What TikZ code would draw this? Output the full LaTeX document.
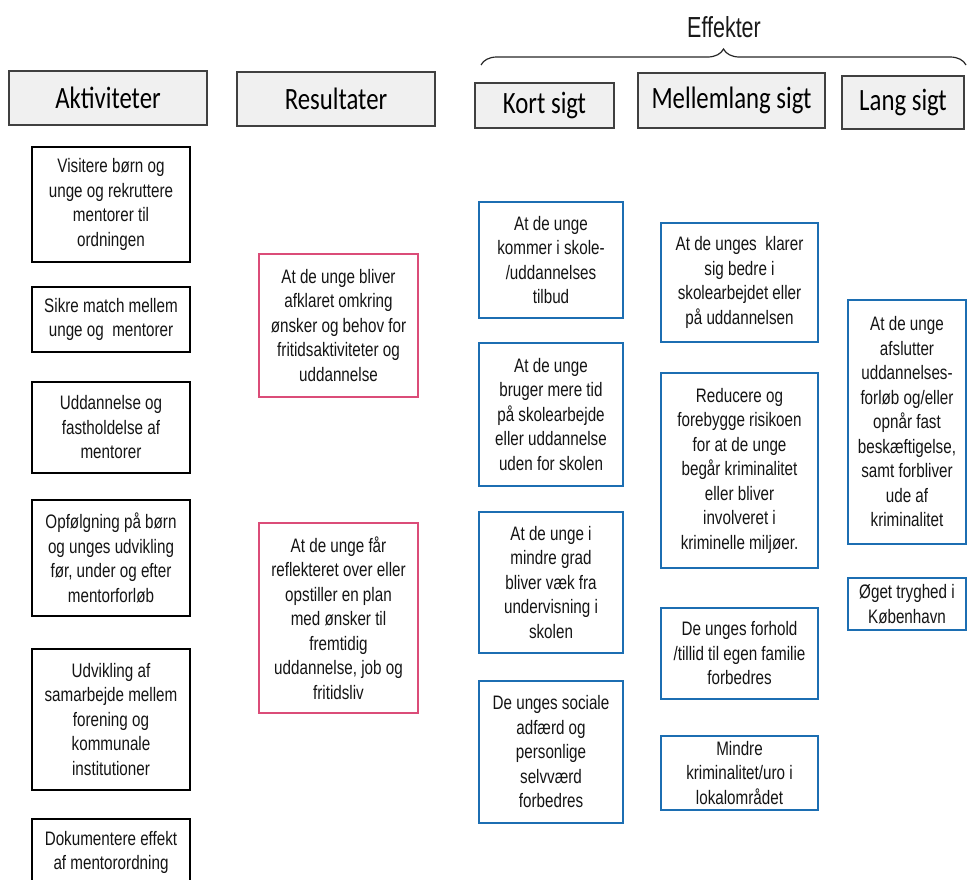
\documentclass[tikz,border=0pt]{standalone}
\usepackage{fontspec}
\usepackage{tikz}
\usetikzlibrary{decorations.pathreplacing}
\newfontfamily\kassefont[FakeStretch=0.78]{Liberation Sans}
\newfontfamily\effektfont[FakeStretch=0.74]{Liberation Sans}
\newfontfamily\titelfont[FakeStretch=0.8]{Carlito}

\begin{document}
\begin{tikzpicture}[x=1pt, y=-1pt,
        titel/.style={draw=black!75, fill=black!6, line width=1.2pt, inner sep=0pt,
            font=\titelfont\fontsize{31}{34}\selectfont},
        kasse/.style={draw=black, line width=1.2pt, inner sep=0pt, align=center,
            text=black!92, font=\kassefont\fontsize{19.5}{24.5}\selectfont},
        resultat/.style={kasse, draw=regnbue, line width=1.4pt},
        effekt/.style={kasse, draw=blaa, line width=2.4pt}]
        \definecolor{blaa}{rgb}{0.11, 0.43, 0.70}
        \definecolor{regnbue}{rgb}{0.86, 0.30, 0.47}

        \useasboundingbox (0,0) rectangle (968,879);
        \clip (0,0) rectangle (968,879);

        \node [titel, minimum width=198, minimum height=54] (tAkt)   at (108,98)    {Aktiviteter};
        \node [titel, minimum width=198, minimum height=54] (tRes)   at (336,99)    {Resultater};
        \node [titel, minimum width=139, minimum height=45] (tKort)  at (544.5,105.5) {Kort sigt};
        \node [titel, minimum width=187, minimum height=55] (tMel)   at (731.5,100.5) {Mellemlang sigt};
        \node [titel, minimum width=122, minimum height=53] (tLang)  at (903,102.5) {Lang sigt};

        \node [font=\effektfont\fontsize{29}{30}\selectfont, text=black!90, inner sep=0pt] (effekter) at (724,27) {Effekter};
        \coordinate (klV) at (481,65);
        \coordinate (klH) at (966,65);
        \draw [black!85, line width=1.2pt, decorate, decoration={brace, amplitude=16pt}] (klV) -- (klH);

        \node [kasse, minimum width=158, minimum height=115] (a1) at (111,204.5)
            {Visitere børn og\\unge og rekruttere\\mentorer til\\ordningen};
        \node [kasse, minimum width=158, minimum height=65] (a2) at (111,319.5)
            {Sikre match mellem\\unge og\ \ mentorer};
        \node [kasse, minimum width=158, minimum height=91] (a3) at (111,427.5)
            {Uddannelse og\\fastholdelse af\\mentorer};
        \node [kasse, minimum width=158, minimum height=116] (a4) at (111,558)
            {Opfølgning på børn\\og unges udvikling\\før, under og efter\\mentorforløb};
        \node [kasse, minimum width=158, minimum height=141] (a5) at (111,719.5)
            {Udvikling af\\samarbejde mellem\\forening og\\kommunale\\institutioner};
        \node [kasse, minimum width=158, minimum height=67] (a6) at (111,852.5)
            {Dokumentere effekt\\af mentorordning};

        \node [resultat, minimum width=159, minimum height=143] (r1) at (338.5,325.5)
            {At de unge bliver\\afklaret omkring\\ønsker og behov for\\fritidsaktiviteter og\\uddannelse};
        \node [resultat, minimum width=159, minimum height=190] (r2) at (338.5,618)
            {At de unge får\\reflekteret over eller\\opstiller en plan\\med ønsker til\\fremtidig\\uddannelse, job og\\fritidsliv};

        \node [effekt, minimum width=144, minimum height=116] (k1) at (551,260)
            {At de unge\\kommer i skole-\\/uddannelses\\tilbud};
        \node [effekt, minimum width=144, minimum height=143] (k2) at (551,414.5)
            {At de unge\\bruger mere tid\\på skolearbejde\\eller uddannelse\\uden for skolen};
        \node [effekt, minimum width=144, minimum height=141] (k3) at (551,582.5)
            {At de unge i\\mindre grad\\bliver væk fra\\undervisning i\\skolen};
        \node [effekt, minimum width=144, minimum height=142] (k4) at (551,752)
            {De unges sociale\\adfærd og\\personlige\\selvværd\\forbedres};

        \node [effekt, minimum width=157, minimum height=119] (m1) at (739.5,282.5)
            {At de unges\ \ klarer\\sig bedre i\\skolearbejdet eller\\på uddannelsen};
        \node [effekt, minimum width=157, minimum height=195] (m2) at (739.5,470.5)
            {Reducere og\\forebygge risikoen\\for at de unge\\begår kriminalitet\\eller bliver\\involveret i\\kriminelle miljøer.};
        \node [effekt, minimum width=157, minimum height=91] (m3) at (739.5,653.5)
            {De unges forhold\\/tillid til egen familie\\forbedres};
        \node [effekt, minimum width=157, minimum height=74] (m4) at (739.5,773)
            {Mindre\\kriminalitet/uro i\\lokalområdet};

        \node [effekt, minimum width=118, minimum height=244] (l1) at (907,422)
            {At de unge\\afslutter\\uddannelses-\\forløb og/eller\\opnår fast\\beskæftigelse,\\samt forbliver\\ude af\\kriminalitet};
        \node [effekt, minimum width=118, minimum height=52] (l2) at (907,604)
            {Øget tryghed i\\København};
    \end{tikzpicture}
\end{document}
